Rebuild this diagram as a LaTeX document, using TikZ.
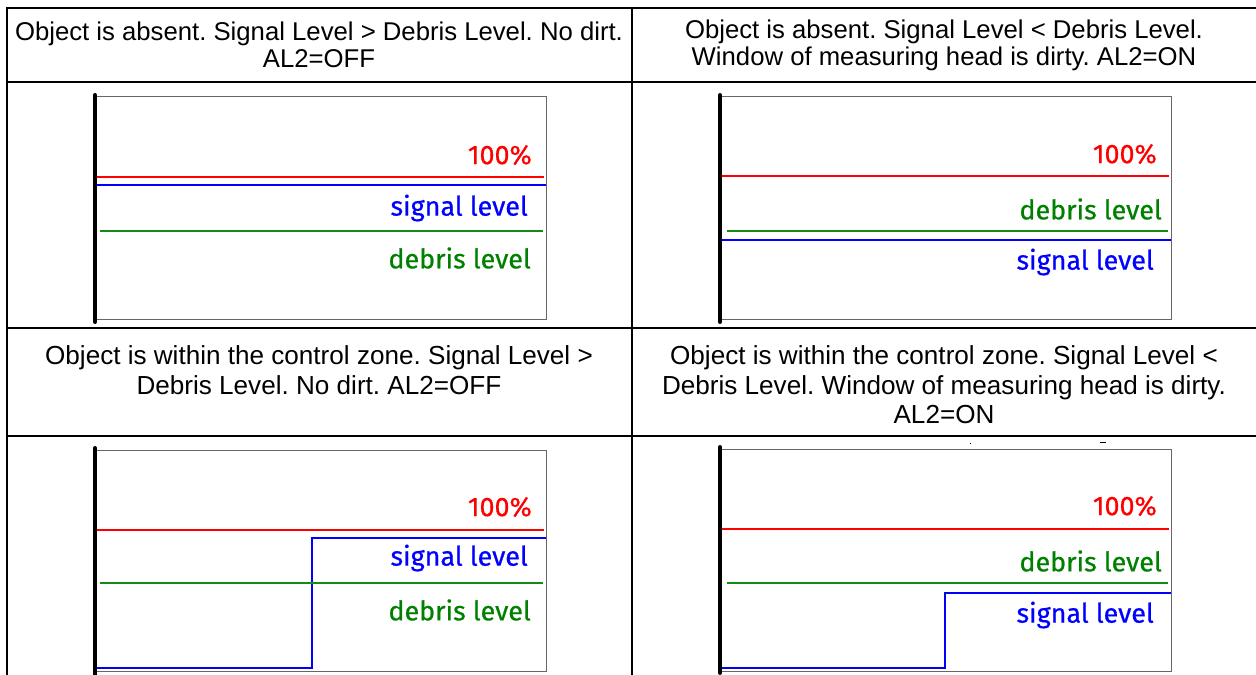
\documentclass[tikz,border=0pt]{standalone}
\usepackage{fontspec}
\setmainfont{Liberation Sans}
\newfontfamily\lblfont[FakeBold=0.6]{Fira Sans}
\frenchspacing

\begin{document}
\begin{tikzpicture}[x=1bp,y=-1bp,
  gridline/.style={line width=2bp,black},
  axisline/.style={line width=4bp,black,line cap=round},
  chartframe/.style={line width=1bp,black!60},
  hdr/.style={align=center,inner sep=0pt,font=\fontsize{25.8}{27}\selectfont},
  hdrwide/.style={align=center,inner sep=0pt,font=\fontsize{26.2}{29.7}\selectfont},
  lbl/.style={anchor=east,inner sep=0pt,font=\lblfont\fontsize{27}{27}\selectfont},
  fullline/.style={draw=red,line width=1.1bp},
  sigline/.style={draw=blue,line width=1.1bp},
  debline/.style={draw={rgb,255:red,20;green,140;blue,20},line width=1.1bp},
  fulltext/.style={lbl,text=red},
  sigtext/.style={lbl,text=blue},
  debtext/.style={lbl,text={rgb,255:red,0;green,128;blue,0}}]
\useasboundingbox (0,0) rectangle (1256,675);

% table grid
\draw[gridline] (1260,8) -- (7,8) -- (7,680);
\draw[gridline] (7,82) -- (1260,82);
\draw[gridline] (7,328) -- (1260,328);
\draw[gridline] (7,436) -- (1260,436);
\draw[gridline] (632,8) -- (632,680);

% headers
\node[hdr] (h1) at (319,45) {Object is absent. Signal Level > Debris Level. No dirt.\\AL2=OFF};
\node[hdr] (h2) at (944,45) {Object is absent. Signal Level < Debris Level.\\Window of measuring head is dirty. AL2=ON};
\node[hdrwide] (h3) at (319,370) {Object is within the control zone. Signal Level >\\Debris Level. No dirt. AL2=OFF};
\node[hdrwide] (h4) at (944,385) {Object is within the control zone. Signal Level <\\Debris Level. Window of measuring head is dirty.\\AL2=ON};

% chart 1: object absent, clean window
\draw[chartframe] (95,97) -- (546,97) -- (546,319) -- (95,319);
\draw[fullline] (97,177) -- (544,177);
\draw[sigline] (97,185) -- (546,185);
\draw[debline] (100,231) -- (543,231);
\draw[axisline] (95,95) -- (95,322);
\node[fulltext] (f1) at (532,155) {100\%};
\node[sigtext] (s1) at (528,208) {signal level};
\node[debtext] (d1) at (531,258) {debris level};

% chart 2: object absent, dirty window
\draw[chartframe] (720,97) -- (1171,97) -- (1171,319) -- (720,319);
\draw[fullline] (722,176) -- (1169,176);
\draw[debline] (727,231) -- (1168,231);
\draw[sigline] (722,240) -- (1171,240);
\draw[axisline] (720,95) -- (720,322);
\node[fulltext] (f2) at (1157,154) {100\%};
\node[debtext] (d2) at (1162,209) {debris level};
\node[sigtext] (s2) at (1154,262) {signal level};

% chart 3: object in zone, clean window
\draw[chartframe] (95,450) -- (546,450) -- (546,671) -- (95,671);
\draw[fullline] (97,530) -- (544,530);
\draw[sigline] (97,668) -- (312,668) -- (312,538) -- (546,538);
\draw[debline] (100,583) -- (543,583);
\draw[axisline] (95,448) -- (95,675);
\node[fulltext] (f3) at (532,507) {100\%};
\node[sigtext] (s3) at (528,558) {signal level};
\node[debtext] (d3) at (531,610) {debris level};

% chart 4: object in zone, dirty window
\draw[chartframe] (720,449) -- (1171,449) -- (1171,671) -- (720,671);
\draw[fullline] (722,529) -- (1169,529);
\draw[debline] (727,583) -- (1168,583);
\draw[sigline] (722,668) -- (945,668) -- (945,593) -- (1171,593);
\draw[axisline] (720,447) -- (720,673);
\node[fulltext] (f4) at (1157,506) {100\%};
\node[debtext] (d4) at (1162,561) {debris level};
\node[sigtext] (s4) at (1154,615) {signal level};
\fill[black] (969.5,442.5) rectangle (971,444);
\fill[black] (1100,441.5) rectangle (1106,443);
\end{tikzpicture}
\end{document}
